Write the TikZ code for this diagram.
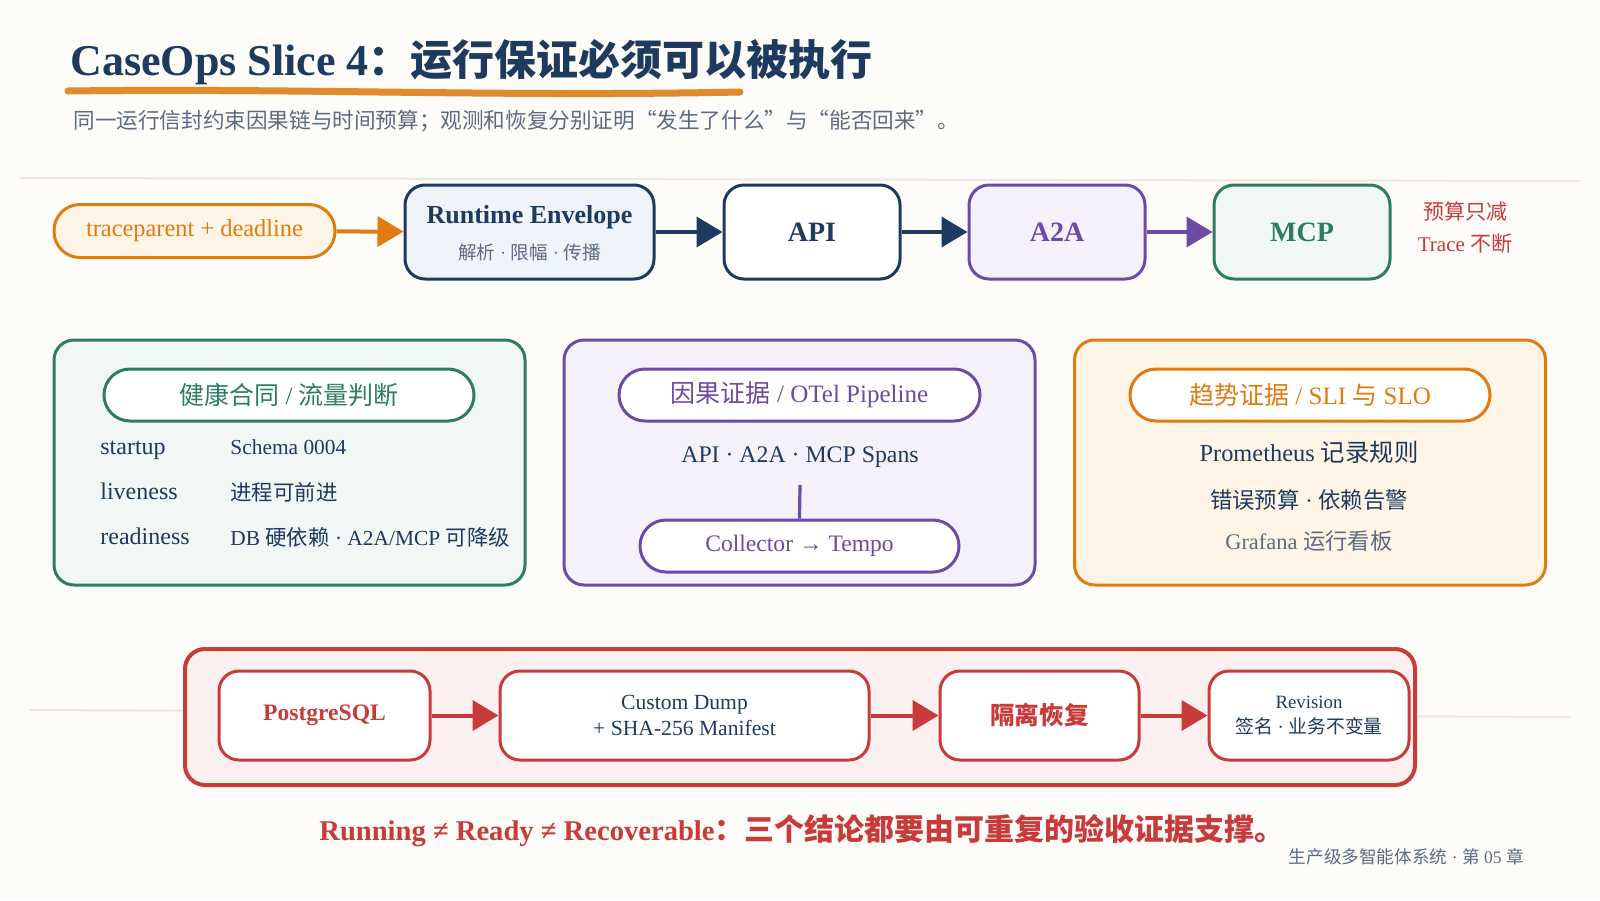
\documentclass[tikz,border=0pt]{standalone}
\usepackage{fontspec}
\setmainfont{Liberation Serif}
\newfontfamily\cjk{Noto Sans CJK SC}
\usetikzlibrary{arrows.meta}
\newcommand\zh[1]{{\cjk #1}}
\newcommand\fs[1]{\fontsize{#1}{#1}\selectfont}
\definecolor{bgc}{HTML}{FDFCF8}
\definecolor{navy}{HTML}{1E3A5F}
\definecolor{orng}{HTML}{E07B10}
\definecolor{orngfill}{HTML}{FFF5E6}
\definecolor{brush}{HTML}{E08A2C}
\definecolor{grn}{HTML}{2E7D62}
\definecolor{grnfill}{HTML}{F0F7F4}
\definecolor{purp}{HTML}{6C4AA6}
\definecolor{purpfill}{HTML}{F4F1FA}
\definecolor{rd}{HTML}{C83B3B}
\definecolor{rdfill}{HTML}{FCEFEF}
\definecolor{gry}{HTML}{5C6B82}
\definecolor{sep}{HTML}{EDE8DF}
\definecolor{envfill}{HTML}{EFF4FB}
\begin{document}
\begin{tikzpicture}[x=0.5pt,y=-0.5pt,
  box/.style={draw, line width=1.5pt, rounded corners=10pt, inner sep=0},
  pill/.style={draw, line width=1.5pt, rounded corners=13pt, fill=white, inner sep=0},
  panel/.style={draw, line width=1.5pt, rounded corners=10pt, inner sep=0, minimum width=235.5pt, minimum height=122.5pt},
  txt/.style={inner sep=0, text=navy},
  flow/.style={line width=2pt, -{Triangle[length=13pt,width=15pt]}},
  sepline/.style={draw=sep, line width=1pt}]
\fill[bgc] (0,0) rectangle (1600,900);
\useasboundingbox (0,0) rectangle (1600,900);
% separators
\coordinate (s1a) at (20,178); \coordinate (s1b) at (1580,181);
\draw[sepline] (s1a) -- (s1b);
\coordinate (s2a) at (30,710); \coordinate (s2b) at (1570,717);
\draw[sepline] (s2a) -- (s2b);
% title
\node[txt, anchor=west, font=\fs{22}\bfseries] (title) at (70,62) {CaseOps Slice 4{\fs{21}\zh{：运行保证必须可以被执行}}};
\coordinate (u1) at (68,91); \coordinate (u2) at (740,92);
\draw[brush, line width=3.5pt, line cap=round] (u1) .. controls (300,88) and (500,97) .. (u2);
\node[txt, anchor=west, text=gry, font=\fs{10.8}] (sub) at (73,121) {\zh{同一运行信封约束因果链与时间预算；观测和恢复分别证明“发生了什么”与“能否回来”。}};
% top row
\node[pill, draw=orng, fill=orngfill, minimum width=140.5pt, minimum height=26.5pt, text=orng, font=\fs{12.2}] (tp) at (194.5,231) {traceparent + deadline};
\node[box, draw=navy, fill=envfill, minimum width=124.5pt, minimum height=47pt] (env) at (529.5,232) {};
\node[txt, font=\fs{13}\bfseries] (envt) at (529.5,217) {Runtime Envelope};
\node[txt, text=gry, font=\fs{9.3}] (envs) at (529.5,252) {\zh{解析} · \zh{限幅} · \zh{传播}};
\node[box, draw=navy, fill=white, minimum width=88pt, minimum height=47pt, text=navy, font=\fs{14}\bfseries] (api) at (812,232) {API};
\node[box, draw=purp, fill=purpfill, minimum width=88pt, minimum height=47pt, text=purp, font=\fs{14}\bfseries] (a2a) at (1057,232) {A2A};
\node[box, draw=grn, fill=grnfill, minimum width=88pt, minimum height=47pt, text=grn, font=\fs{14}\bfseries] (mcp) at (1302,232) {MCP};
\draw[flow, orng] (tp) -- (env);
\draw[flow, navy] (env) -- (api);
\draw[flow, navy] (api) -- (a2a);
\draw[flow, purp] (a2a) -- (mcp);
\node[txt, text=rd, font=\fs{10.5}] (bud) at (1465,212) {\zh{预算只减}};
\node[txt, text=rd, font=\fs{10.5}] (trc) at (1465,244) {Trace \zh{不断}};
% middle panels
\node[panel, draw=grn, fill=grnfill] (pg) at (289.5,462.5) {};
\node[pill, draw=grn, minimum width=185pt, minimum height=26pt, text=grn, font=\fs{12.5}] (pgh) at (289,395) {\zh{健康合同} / \zh{流量判断}};
\node[txt, anchor=base west, font=\fs{12}] (l1) at (100,454) {startup};
\node[txt, anchor=base west, font=\fs{12}] (l2) at (100,499) {liveness};
\node[txt, anchor=base west, font=\fs{12}] (l3) at (100,544) {readiness};
\node[txt, anchor=west, font=\fs{10.7}] (v1) at (230,447) {Schema 0004};
\node[txt, anchor=west, font=\fs{10.7}] (v2) at (230,492) {\zh{进程可前进}};
\node[txt, anchor=west, font=\fs{10.7}] (v3) at (230,537) {DB \zh{硬依赖} · A2A/MCP \zh{可降级}};
\node[panel, draw=purp, fill=purpfill] (pp) at (799.5,462.5) {};
\node[pill, draw=purp, minimum width=180.5pt, minimum height=26pt, text=purp, font=\fs{12.5}] (pph) at (799.5,395) {\zh{因果证据} / OTel Pipeline};
\node[txt, font=\fs{11.9}] (spans) at (800,457) {API · A2A · MCP Spans};
\node[pill, draw=purp, minimum width=159.5pt, minimum height=26pt, text=purp, font=\fs{11.8}] (col) at (799.5,546) {Collector → Tempo};
\coordinate (spb) at (800,485);
\draw[purp, line width=1.6pt] (spb) -- (col.north);
\node[panel, draw=orng, fill=orngfill] (po) at (1310,462.5) {};
\node[pill, draw=orng, minimum width=180pt, minimum height=26pt, text=orng, font=\fs{12.5}] (poh) at (1310,395) {\zh{趋势证据} / SLI \zh{与} SLO};
\node[txt, font=\fs{12.2}] (prom) at (1309,452) {Prometheus \zh{记录规则}};
\node[txt, font=\fs{11.2}] (err) at (1309,500) {\zh{错误预算} · \zh{依赖告警}};
\node[txt, text=gry, font=\fs{11.2}] (graf) at (1309,541) {Grafana \zh{运行看板}};
% bottom
\node[box, draw=rd, fill=rdfill, line width=2pt, minimum width=615pt, minimum height=68pt] (rb) at (800,717) {};
\node[box, draw=rd, fill=white, minimum width=105.5pt, minimum height=44.5pt, text=rd, font=\fs{11.8}\bfseries] (pgsql) at (324.5,715.5) {PostgreSQL};
\node[box, draw=rd, fill=white, minimum width=184.5pt, minimum height=44.5pt, text=navy, font=\fs{10.8}, align=center] (dump) at (684.5,715.5) {Custom Dump\\[2pt]+ SHA-256 Manifest};
\node[box, draw=rd, fill=white, minimum width=99.5pt, minimum height=44.5pt, text=rd, font=\fs{12.3}\bfseries] (iso) at (1039.5,715.5) {\zh{隔离恢复}};
\node[box, draw=rd, fill=white, minimum width=100pt, minimum height=44.5pt, text=navy, font=\fs{9.4}, align=center] (rev) at (1309,715.5) {Revision\\[3pt]\zh{签名} · \zh{业务不变量}};
\draw[flow, rd] (pgsql) -- (dump);
\draw[flow, rd] (dump) -- (iso);
\draw[flow, rd] (iso) -- (rev);
\node[txt, text=rd, font=\fs{14.3}\bfseries] (concl) at (802,831) {Running ≠ Ready ≠ Recoverable{\fs{15}\zh{：三个结论都要由可重复的验收证据支撑。}}};
\node[txt, anchor=east, text=gry, font=\fs{8.8}] (foot) at (1524,857) {\zh{生产级多智能体系统} · \zh{第} 05 \zh{章}};
\end{tikzpicture}
\end{document}
